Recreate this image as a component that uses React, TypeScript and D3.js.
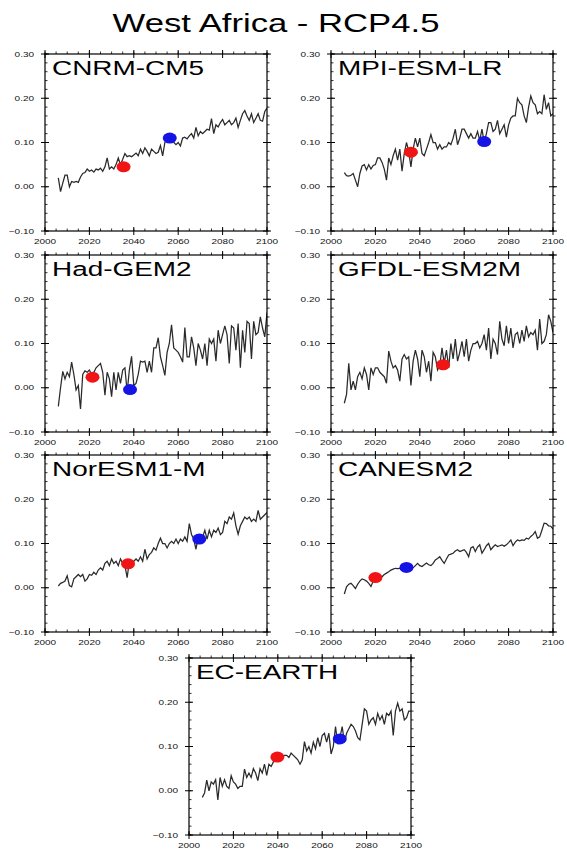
import React from "react";
import * as d3 from "d3";

const years: number[] = d3.range(2006, 2101);

const modelNames = ["CNRM-CM5", "MPI-ESM-LR", "Had-GEM2", "GFDL-ESM2M", "NorESM1-M", "CANESM2", "EC-EARTH"];

const cnrm = [
  0.020, -0.011, 0.008, 0.026, 0.026, 0.000, 0.012, 0.010, 0.012, 0.010,
  0.022, 0.030, 0.032, 0.040, 0.035, 0.038, 0.033, 0.040, 0.038, 0.042,
  0.035, 0.045, 0.065, 0.040, 0.045, 0.040, 0.050, 0.065, 0.050, 0.062,
  0.075, 0.068, 0.070, 0.068, 0.072, 0.076, 0.070, 0.085, 0.075, 0.088,
  0.080, 0.070, 0.085, 0.080, 0.075, 0.078, 0.093, 0.070, 0.100, 0.108,
  0.105, 0.110, 0.100, 0.095, 0.100, 0.092, 0.110, 0.112, 0.108, 0.115,
  0.120, 0.110, 0.134, 0.115, 0.125, 0.120, 0.125, 0.130, 0.128, 0.154,
  0.120, 0.140, 0.135, 0.145, 0.152, 0.140, 0.145, 0.150, 0.140, 0.145,
  0.155, 0.134, 0.150, 0.165, 0.172, 0.160, 0.150, 0.165, 0.145, 0.155,
  0.165, 0.150, 0.148, 0.170, 0.178,
];

const mpi = [
  0.032, 0.025, 0.024, 0.026, 0.030, 0.015, 0.000, 0.030, 0.047, 0.050,
  0.038, 0.050, 0.040, 0.048, 0.050, 0.065, 0.065, 0.055, 0.040, 0.015,
  0.065, 0.050, 0.070, 0.085, 0.060, 0.085, 0.035, 0.075, 0.100, 0.080,
  0.045, 0.085, 0.110, 0.090, 0.110, 0.075, 0.070, 0.085, 0.100, 0.118,
  0.100, 0.100, 0.085, 0.095, 0.085, 0.090, 0.090, 0.100, 0.095, 0.110,
  0.130, 0.095, 0.110, 0.130, 0.130, 0.120, 0.110, 0.120, 0.110, 0.110,
  0.125, 0.105, 0.130, 0.100, 0.120, 0.145, 0.145, 0.125, 0.130, 0.150,
  0.120, 0.130, 0.140, 0.112, 0.140, 0.155, 0.160, 0.160, 0.200, 0.190,
  0.185, 0.160, 0.145, 0.180, 0.205, 0.190, 0.185, 0.165, 0.170, 0.165,
  0.208, 0.175, 0.190, 0.160, 0.165,
];

const hadgem = [
  -0.042, 0.000, 0.037, 0.020, 0.035, 0.025, 0.058, 0.030, -0.005, 0.005,
  -0.048, 0.030, 0.038, 0.035, 0.040, 0.030, 0.035, 0.045, 0.050, 0.055,
  0.035, -0.017, 0.035, 0.020, -0.020, 0.035, -0.005, 0.035, 0.010, 0.040,
  0.045, -0.010, 0.040, 0.071, 0.005, 0.010, 0.030, 0.060, 0.058, 0.060,
  0.035, 0.060, 0.035, 0.090, 0.090, 0.113, 0.070, 0.050, 0.028, 0.080,
  0.100, 0.142, 0.090, 0.085, 0.080, 0.070, 0.058, 0.136, 0.070, 0.070,
  0.115, 0.090, 0.050, 0.100, 0.085, 0.065, 0.100, 0.050, 0.110, 0.100,
  0.110, 0.060, 0.130, 0.100, 0.120, 0.140, 0.120, 0.055, 0.140, 0.135,
  0.085, 0.145, 0.045, 0.130, 0.080, 0.150, 0.145, 0.065, 0.150, 0.120,
  0.125, 0.160, 0.135, 0.115, 0.170,
];

const gfdl = [
  -0.035, -0.015, 0.055, -0.005, 0.015, -0.005, 0.025, 0.035, 0.020, 0.045,
  0.030, -0.005, 0.045, 0.030, 0.045, 0.045, 0.035, 0.030, 0.025, 0.010,
  0.083, 0.060, 0.045, 0.050, 0.040, 0.015, 0.065, 0.075, 0.065, 0.070,
  0.005, 0.060, 0.085, 0.065, 0.025, 0.085, 0.070, 0.035, 0.060, 0.015,
  0.080, 0.070, 0.040, 0.050, 0.090, 0.055, 0.085, 0.045, 0.100, 0.065,
  0.110, 0.060, 0.080, 0.105, 0.070, 0.110, 0.060, 0.085, 0.100, 0.100,
  0.105, 0.090, 0.100, 0.120, 0.085, 0.135, 0.065, 0.110, 0.100, 0.075,
  0.150, 0.110, 0.095, 0.140, 0.100, 0.135, 0.090, 0.120, 0.125, 0.100,
  0.130, 0.105, 0.140, 0.115, 0.125, 0.120, 0.130, 0.085, 0.155, 0.100,
  0.105, 0.120, 0.165, 0.150, 0.125,
];

const noresm = [
  0.004, 0.010, 0.012, 0.015, 0.027, 0.005, 0.002, 0.020, 0.025, 0.030,
  0.025, 0.030, 0.015, 0.020, 0.030, 0.028, 0.035, 0.030, 0.040, 0.045,
  0.040, 0.055, 0.060, 0.050, 0.065, 0.055, 0.060, 0.050, 0.065, 0.055,
  0.050, 0.023, 0.060, 0.055, 0.060, 0.065, 0.060, 0.070, 0.060, 0.087,
  0.065, 0.075, 0.080, 0.090, 0.085, 0.100, 0.112, 0.100, 0.100, 0.090,
  0.100, 0.105, 0.100, 0.110, 0.100, 0.110, 0.105, 0.115, 0.105, 0.145,
  0.120, 0.110, 0.087, 0.115, 0.120, 0.115, 0.130, 0.110, 0.130, 0.115,
  0.130, 0.125, 0.135, 0.120, 0.125, 0.150, 0.145, 0.160, 0.155, 0.169,
  0.140, 0.121, 0.140, 0.150, 0.160, 0.155, 0.160, 0.150, 0.155, 0.150,
  0.175, 0.155, 0.160, 0.165, 0.170,
];

const canesm = [
  -0.014, 0.002, 0.008, 0.010, 0.005, -0.002, 0.008, 0.015, 0.020, 0.018,
  0.015, 0.010, 0.003, 0.015, 0.018, 0.016, 0.020, 0.025, 0.030, 0.033,
  0.036, 0.040, 0.042, 0.044, 0.043, 0.044, 0.045, 0.042, 0.040, 0.042,
  0.043, 0.045, 0.050, 0.055, 0.050, 0.048, 0.052, 0.056, 0.052, 0.050,
  0.055, 0.063, 0.066, 0.070, 0.062, 0.055, 0.065, 0.074, 0.076, 0.078,
  0.083, 0.086, 0.082, 0.084, 0.086, 0.080, 0.070, 0.090, 0.093, 0.082,
  0.092, 0.097, 0.078, 0.086, 0.095, 0.100, 0.086, 0.092, 0.097, 0.093,
  0.095, 0.097, 0.094, 0.097, 0.102, 0.108, 0.095, 0.103, 0.108, 0.106,
  0.108, 0.107, 0.112, 0.110, 0.116, 0.120, 0.127, 0.112, 0.115, 0.130,
  0.146, 0.145, 0.140, 0.139, 0.133,
];

const ecearth = [
  -0.015, -0.005, 0.024, 0.000, 0.020, 0.015, 0.025, -0.021, 0.030, 0.010,
  0.025, 0.010, 0.005, 0.034, 0.020, 0.015, 0.005, 0.010, 0.010, 0.049,
  0.030, 0.040, 0.030, 0.050, 0.040, 0.023, 0.050, 0.040, 0.060, 0.035,
  0.060, 0.055, 0.065, 0.070, 0.075, 0.075, 0.075, 0.080, 0.080, 0.075,
  0.085, 0.080, 0.075, 0.070, 0.060, 0.070, 0.111, 0.090, 0.100, 0.085,
  0.110, 0.095, 0.120, 0.100, 0.125, 0.130, 0.110, 0.130, 0.083, 0.100,
  0.145, 0.105, 0.120, 0.145, 0.110, 0.130, 0.140, 0.150, 0.145, 0.135,
  0.120, 0.115, 0.150, 0.185, 0.180, 0.150, 0.160, 0.165, 0.150, 0.175,
  0.160, 0.170, 0.150, 0.175, 0.170, 0.180, 0.125, 0.180, 0.198, 0.180,
  0.185, 0.160, 0.165, 0.180, 0.180,
];

const seriesList = [cnrm, mpi, hadgem, gfdl, noresm, canesm, ecearth];

// marker points [year, value]; null when absent
const redDots: [number, number][] = [
  [2035.4, 0.045], [2036, 0.078], [2021.4, 0.024], [2050.5, 0.052],
  [2037.4, 0.054], [2020, 0.023], [2039.8, 0.076],
];
const blueDots: ([number, number] | null)[] = [
  [2056.2, 0.11], [2069, 0.102], [2038.3, -0.004], null,
  [2069.5, 0.11], [2034, 0.046], [2067.9, 0.117],
];

const xTicks = [2000, 2020, 2040, 2060, 2080, 2100];
const yTicks = [-0.1, 0.0, 0.1, 0.2, 0.3];
const xMinor = d3.range(2000, 2101, 5);
const yMinor = d3.range(-0.1, 0.3001, 0.02);

const titleText = "West Africa - RCP4.5";

// layout
const PW = 222;
const PH = 177;
const panelLeft = [45, 331, 45, 331, 45, 331, 189];
const panelTop = [54, 54, 255, 255, 455, 455, 658];
const SX = 1.33;
const FONT = "'Liberation Sans', Arial, Helvetica, sans-serif";

function Panel({ idx }: { idx: number }) {
  const x0 = panelLeft[idx];
  const y0 = panelTop[idx];
  const x = d3.scaleLinear().domain([2000, 2100]).range([x0, x0 + PW]);
  const y = d3.scaleLinear().domain([-0.1, 0.3]).range([y0 + PH, y0]);
  const vals = seriesList[idx];
  const line = d3
    .line<number>()
    .x((_, i) => x(years[i]))
    .y((v) => y(v));
  const red = redDots[idx];
  const blue = blueDots[idx];
  const bottom = y0 + PH;
  const right = x0 + PW;
  const minorLen = 2.5;
  const majorLen = 4;
  return (
    <g>
      <defs>
        <clipPath id={`clip${idx}`}>
          <rect x={x0} y={y0} width={PW} height={PH} />
        </clipPath>
      </defs>
      <path d={line(vals) || ""} fill="none" stroke="#2a2a2a" strokeWidth={1.25} clipPath={`url(#clip${idx})`} />
      <ellipse cx={x(red[0])} cy={y(red[1])} rx={7} ry={5.5} fill="#f01414" />
      {blue && <ellipse cx={x(blue[0])} cy={y(blue[1])} rx={7} ry={5.5} fill="#1414e6" />}
      <rect x={x0} y={y0} width={PW} height={PH} fill="none" stroke="#000" strokeWidth={1.2} />
      {/* minor ticks */}
      {xMinor.map((t) => (
        <g key={`xm${t}`}>
          <line x1={x(t)} x2={x(t)} y1={bottom} y2={bottom - minorLen} stroke="#000" strokeWidth={0.8} />
          <line x1={x(t)} x2={x(t)} y1={y0} y2={y0 - minorLen} stroke="#000" strokeWidth={0.8} />
        </g>
      ))}
      {yMinor.map((t, i) => (
        <g key={`ym${i}`}>
          <line x1={x0} x2={x0 + minorLen} y1={y(t)} y2={y(t)} stroke="#000" strokeWidth={0.8} />
          <line x1={right} x2={right + minorLen} y1={y(t)} y2={y(t)} stroke="#000" strokeWidth={0.8} />
        </g>
      ))}
      {/* major ticks */}
      {xTicks.map((t) => (
        <g key={`xM${t}`}>
          <line x1={x(t)} x2={x(t)} y1={bottom + majorLen} y2={bottom - majorLen} stroke="#000" strokeWidth={1} />
          <line x1={x(t)} x2={x(t)} y1={y0 - majorLen} y2={y0 + majorLen} stroke="#000" strokeWidth={1} />
          <text
            transform={`translate(${x(t)},${bottom + 13}) scale(${SX},1)`}
            textAnchor="middle"
            fontSize={7.5}
            fontFamily={FONT}
            fill="#111"
          >
            {t}
          </text>
        </g>
      ))}
      {yTicks.map((t) => (
        <g key={`yM${t}`}>
          <line x1={x0 - majorLen} x2={x0 + majorLen} y1={y(t)} y2={y(t)} stroke="#000" strokeWidth={1} />
          <line x1={right - majorLen} x2={right + majorLen} y1={y(t)} y2={y(t)} stroke="#000" strokeWidth={1} />
          <text
            transform={`translate(${x0 - 11},${y(t) + 2.7}) scale(${SX},1)`}
            textAnchor="end"
            fontSize={7.5}
            fontFamily={FONT}
            fill="#111"
          >
            {d3.format(".2f")(t)}
          </text>
        </g>
      ))}
      <text
        transform={`translate(${x0 + 7},${y0 + 21}) scale(${SX},1)`}
        fontSize={21}
        fontFamily={FONT}
        fill="#000"
      >
        {modelNames[idx]}
      </text>
    </g>
  );
}

export default function App() {
  return (
    <svg
      width={567}
      height={852}
      style={{ position: "absolute", left: 0, top: 0, background: "#fff" }}
    >
      <rect x={0} y={0} width={567} height={852} fill="#fff" />
      <text
        transform={`translate(276,32) scale(1.36,1)`}
        textAnchor="middle"
        fontSize={25.5}
        fontFamily={FONT}
        fill="#000"
      >
        {titleText}
      </text>
      {modelNames.map((_, i) => (
        <Panel key={i} idx={i} />
      ))}
    </svg>
  );
}
